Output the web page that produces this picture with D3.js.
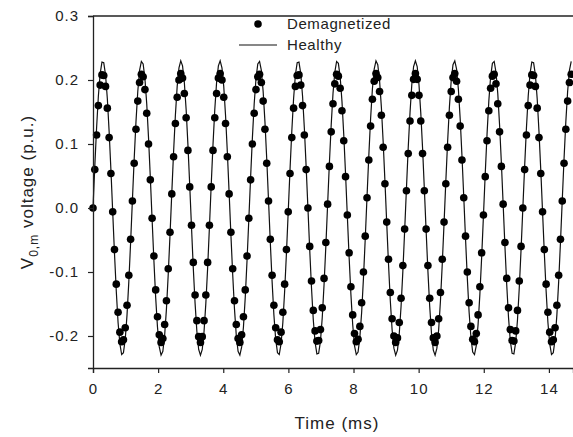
<!DOCTYPE html>
<html>
<head>
<meta charset="utf-8">
<script src="https://cdn.jsdelivr.net/npm/d3@7"></script>
<style>
  html, body { margin: 0; padding: 0; background: #fff; }
  svg { display: block; }
  text { font-family: "Liberation Sans", Arial, sans-serif; fill: #222; }
</style>
</head>
<body>
<div id="chart"></div>
<script>
// sampled phase voltage, one sample every 0.055 ms
const sampleStep = 0.055;

const healthyV = [
  0, .065, .125, .175, .210, .228, .227, .208, .171, .120,
  .060, -.006, -.071, -.130, -.179, -.212, -.229, -.226, -.205, -.167,
  -.115, -.054, .012, .077, .135, .182, .215, .229, .225, .202,
  .163, .110, .048, -.018, -.082, -.140, -.186, -.217, -.230, -.224,
  -.199, -.158, -.104, -.042, .024, .088, .145, .190, .219, .230,
  .222, .196, .154, .099, .036, -.030, -.094, -.149, -.193, -.221,
  -.230, -.221, -.193, -.149, -.094, -.030, .036, .099, .154, .196,
  .222, .230, .219, .190, .145, .088, .024, -.042, -.104, -.158,
  -.199, -.224, -.230, -.217, -.186, -.140, -.082, -.018, .048, .110,
  .163, .202, .225, .229, .215, .182, .135, .077, .012, -.054,
  -.115, -.167, -.205, -.226, -.229, -.212, -.179, -.130, -.071, -.006,
  .060, .120, .171, .208, .227, .228, .210, .175, .125, .065,
  0, -.065, -.125, -.175, -.210, -.228, -.227, -.208, -.171, -.120,
  -.060, .006, .071, .130, .179, .212, .229, .226, .205, .167,
  .115, .054, -.012, -.077, -.135, -.182, -.215, -.229, -.225, -.202,
  -.163, -.110, -.048, .018, .082, .140, .186, .217, .230, .224,
  .199, .158, .104, .042, -.024, -.088, -.145, -.190, -.219, -.230,
  -.222, -.196, -.154, -.099, -.036, .030, .094, .149, .193, .221,
  .230, .221, .193, .149, .094, .030, -.036, -.099, -.154, -.196,
  -.222, -.230, -.219, -.190, -.145, -.088, -.024, .042, .104, .158,
  .199, .224, .230, .217, .186, .140, .082, .018, -.048, -.110,
  -.163, -.202, -.225, -.229, -.215, -.182, -.135, -.077, -.012, .054,
  .115, .167, .205, .226, .229, .212, .179, .130, .071, .006,
  -.060, -.120, -.171, -.208, -.227, -.228, -.210, -.175, -.125, -.065,
  0, .065, .125, .175, .210, .228, .227, .208, .171, .120,
  .060, -.006, -.071, -.130, -.179, -.212, -.229, -.226, -.205, -.167,
  -.115, -.054, .012, .077, .135, .182, .215, .229
];

const demagV = [
  0, .060, .114, .160, .192, .208, .207, .190, .156, .110,
  .054, -.006, -.065, -.119, -.163, -.194, -.209, -.206, -.187, -.152,
  -.105, -.049, .011, .070, .123, .167, .196, .209, .205, .185,
  .148, .100, .044, -.016, -.075, -.128, -.170, -.198, -.210, -.204,
  -.182, -.145, -.095, -.038, .022, .080, .132, .173, .200, .210,
  .203, .179, .141, .090, .033, -.027, -.085, -.136, -.176, -.201,
  -.210, -.201, -.176, -.136, -.085, -.027, .033, .090, .141, .179,
  .203, .210, .200, .173, .132, .080, .022, -.038, -.095, -.145,
  -.182, -.204, -.210, -.198, -.170, -.128, -.075, -.016, .044, .100,
  .148, .185, .205, .209, .196, .167, .123, .070, .011, -.049,
  -.105, -.152, -.187, -.206, -.209, -.194, -.163, -.119, -.065, -.006,
  .054, .110, .156, .190, .207, .208, .192, .160, .114, .060,
  0, -.060, -.114, -.160, -.192, -.208, -.207, -.190, -.156, -.110,
  -.054, .006, .065, .119, .163, .194, .209, .206, .187, .152,
  .105, .049, -.011, -.070, -.123, -.167, -.196, -.209, -.205, -.185,
  -.148, -.100, -.044, .016, .075, .128, .170, .198, .210, .204,
  .182, .145, .095, .038, -.022, -.080, -.132, -.173, -.200, -.210,
  -.203, -.179, -.141, -.090, -.033, .027, .085, .136, .176, .201,
  .210, .201, .176, .136, .085, .027, -.033, -.090, -.141, -.179,
  -.203, -.210, -.200, -.173, -.132, -.080, -.022, .038, .095, .145,
  .182, .204, .210, .198, .170, .128, .075, .016, -.044, -.100,
  -.148, -.185, -.205, -.209, -.196, -.167, -.123, -.070, -.011, .049,
  .105, .152, .187, .206, .209, .194, .163, .119, .065, .006,
  -.054, -.110, -.156, -.190, -.207, -.208, -.192, -.160, -.114, -.060,
  0, .060, .114, .160, .192, .208, .207, .190, .156, .110,
  .054, -.006, -.065, -.119, -.163, -.194, -.209, -.206, -.187, -.152,
  -.105, -.049, .011, .070, .123, .167, .196, .209
];

const xTicks = [0, 2, 4, 6, 8, 10, 12, 14];
const yTicks = [-0.2, -0.1, 0.0, 0.1, 0.2, 0.3];
const xDomain = [0, 14.74];
const yDomain = [-0.25, 0.3];
const legendLabels = ["Demagnetized", "Healthy"];

var width = 573, height = 437;
var margin = {top: 16, right: 0, bottom: 69, left: 93};

var svg = d3.select("#chart").append("svg")
    .attr("width", width)
    .attr("height", height);

var x = d3.scaleLinear().domain(xDomain).range([margin.left, width - margin.right]);
var y = d3.scaleLinear().domain(yDomain).range([height - margin.bottom, margin.top]);

var healthy = healthyV.map((v, i) => ({t: i * sampleStep, v: v}));
var demag = demagV.map((v, i) => ({t: i * sampleStep, v: v}));

// healthy line
var line = d3.line().x(d => x(d.t)).y(d => y(d.v));
svg.append("path")
    .datum(healthy)
    .attr("fill", "none")
    .attr("stroke", "#111")
    .attr("stroke-width", 1.2)
    .attr("d", line);

// demagnetized points
svg.append("g")
  .selectAll("circle")
  .data(demag)
  .join("circle")
    .attr("cx", d => x(d.t))
    .attr("cy", d => y(d.v))
    .attr("r", 3.8)
    .attr("fill", "#000");

// axes
var xAxis = svg.append("g")
    .attr("transform", "translate(0," + y(yDomain[0]) + ")")
    .call(d3.axisBottom(x).tickValues(xTicks).tickSize(5).tickPadding(10).tickFormat(d3.format("d")));
var yAxis = svg.append("g")
    .attr("transform", "translate(" + x(0) + ",0)")
    .call(d3.axisLeft(y).tickValues(yTicks).tickSize(5).tickPadding(9).tickFormat(d => d.toFixed(1)));

[xAxis, yAxis].forEach(a => {
  a.select(".domain").attr("stroke", "#222").attr("stroke-width", 1.3);
  a.selectAll(".tick line").attr("stroke", "#222").attr("stroke-width", 1.2);
  a.selectAll(".tick text")
    .attr("fill", "#222")
    .style("font-size", "15px")
    .style("letter-spacing", "1px")
    .style("font-family", "'Liberation Sans', Arial, sans-serif");
});

// top frame line
svg.append("line")
    .attr("x1", x(0)).attr("x2", width)
    .attr("y1", y(yDomain[1])).attr("y2", y(yDomain[1]))
    .attr("stroke", "#222")
    .attr("stroke-width", 1.3);

// axis titles
svg.append("text")
    .attr("x", (x(xDomain[0]) + x(xDomain[1])) / 2 + 4)
    .attr("y", 429)
    .attr("text-anchor", "middle")
    .style("font-size", "17px")
    .style("letter-spacing", "1px")
    .text("Time (ms)");

var yt = svg.append("text")
    .attr("transform", "translate(33," + (y(yDomain[0]) + y(yDomain[1])) / 2 + ") rotate(-90)")
    .attr("text-anchor", "middle")
    .style("font-size", "17px")
    .style("letter-spacing", "1px");
yt.append("tspan").text("V");
yt.append("tspan").attr("dy", 5).style("font-size", "12px").text("0,m");
yt.append("tspan").attr("dy", -5).text(" voltage (p.u.)");

// legend
var leg = svg.append("g");
leg.append("circle").attr("cx", 258).attr("cy", 24).attr("r", 3.8).attr("fill", "#000");
leg.append("text").attr("x", 287).attr("y", 29).style("font-size", "15px").style("letter-spacing", "0.6px").text(legendLabels[0]);
leg.append("line").attr("x1", 239).attr("x2", 277).attr("y1", 45).attr("y2", 45).attr("stroke", "#111").attr("stroke-width", 1.2);
leg.append("text").attr("x", 287).attr("y", 50).style("font-size", "15px").style("letter-spacing", "0.6px").text(legendLabels[1]);
</script>
</body>
</html>
